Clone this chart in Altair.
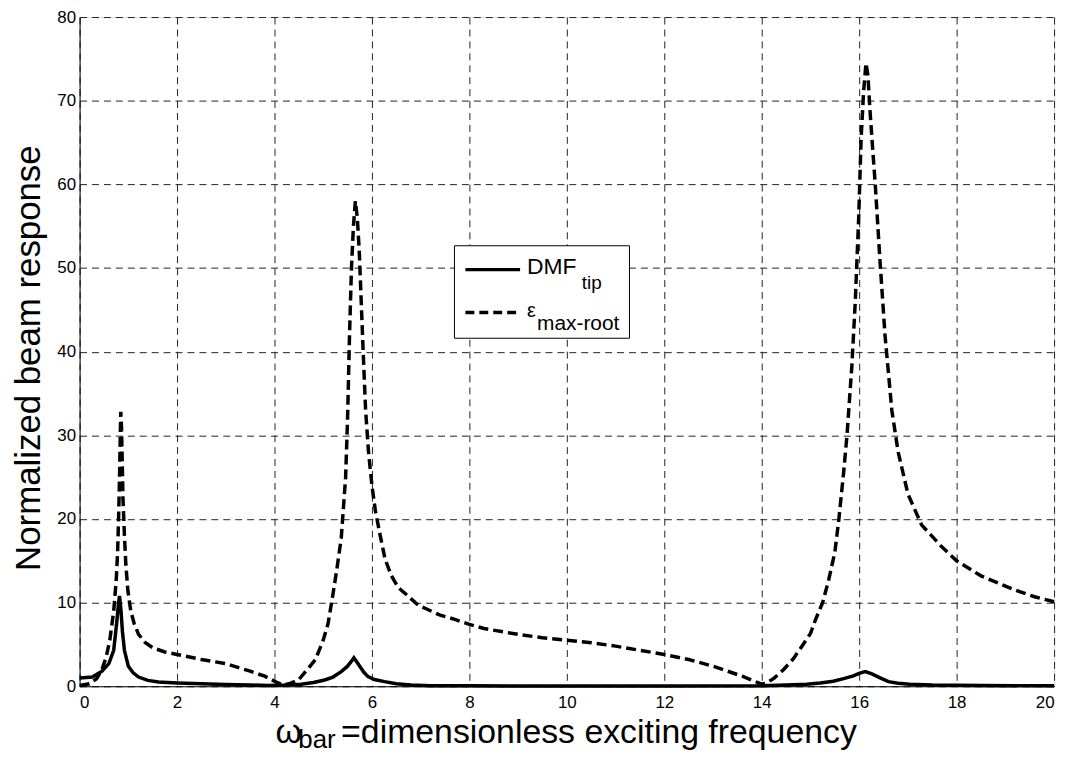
import altair as alt
import pandas as pd

# ---- data ----
eps_x = [0.0, 0.2, 0.35, 0.46, 0.55, 0.62, 0.70, 0.75, 0.78, 0.80, 0.82, 0.835, 0.845, 0.86, 0.875,
         0.89, 0.92, 0.95, 0.99, 1.05, 1.12, 1.21, 1.35, 1.5, 1.75, 2.0, 2.5, 3.0, 3.5, 3.8, 4.0,
         4.17, 4.3, 4.5, 4.7, 4.84, 5.0, 5.1, 5.2, 5.28, 5.37, 5.46, 5.50, 5.54, 5.58, 5.62, 5.66,
         5.70, 5.74, 5.78, 5.82, 5.87, 5.93, 6.0, 6.07, 6.17, 6.27, 6.4, 6.54, 6.7, 6.95, 7.1, 7.4,
         7.7, 8.0, 8.3, 9.0, 9.5, 10.0, 10.5, 11.0, 11.5, 12.0, 12.5, 13.0, 13.3, 13.6, 13.85, 14.0,
         14.1, 14.25, 14.45, 14.65, 14.85, 15.0, 15.1, 15.25, 15.37, 15.5, 15.58, 15.68, 15.75, 15.85,
         15.92, 15.99, 16.04, 16.09, 16.14, 16.18, 16.22, 16.28, 16.33, 16.43, 16.53, 16.67, 16.8,
         17.0, 17.28, 17.69, 18.0, 18.5, 19.2, 19.6, 20.0]
eps_y = [0.1, 0.3, 0.9, 2.0, 3.6, 5.5, 9.0, 12.5, 16.0, 20.0, 25.0, 30.0, 32.8, 31.0, 27.0,
         22.5, 18.0, 14.5, 11.5, 9.0, 7.5, 6.2, 5.2, 4.6, 4.1, 3.8, 3.2, 2.7, 1.8, 1.2, 0.6,
         0.15, 0.3, 0.8, 2.2, 3.2, 5.5, 7.5, 11.0, 14.0, 17.7, 25.0, 32.0, 42.0, 50.0, 55.0, 58.0,
         56.0, 52.0, 46.0, 40.0, 33.0, 28.0, 24.0, 21.0, 18.0, 15.2, 13.2, 11.8, 11.0, 9.7, 9.3, 8.5,
         8.0, 7.4, 6.9, 6.2, 5.8, 5.5, 5.2, 4.8, 4.3, 3.8, 3.2, 2.4, 1.8, 1.2, 0.6, 0.25,
         0.4, 0.95, 2.0, 3.3, 5.0, 6.3, 7.9, 10.0, 12.6, 16.0, 19.8, 25.5, 30.0, 38.3,
         46.0, 56.0, 65.5, 71.0, 74.5, 73.0, 69.0, 64.0, 60.0, 50.6, 42.0, 33.0, 28.0,
         23.0, 19.3, 16.7, 15.0, 13.2, 11.5, 10.7, 10.1]

dmf_x = [0.0, 0.26, 0.46, 0.6, 0.70, 0.76, 0.80, 0.82, 0.85, 0.88, 0.92, 1.0, 1.1, 1.21, 1.4,
         1.62, 2.0, 2.5, 3.0, 3.5, 3.86, 4.2, 4.55, 4.8, 5.03, 5.2, 5.37, 5.5, 5.58, 5.63, 5.68,
         5.75, 5.83, 5.92, 6.05, 6.26, 6.5, 6.8, 7.2, 8.0, 10.0, 12.0, 14.0, 14.5, 14.92, 15.2,
         15.47, 15.7, 15.88, 16.0, 16.12, 16.25, 16.43, 16.6, 16.8, 17.04, 17.5, 18.5, 20.0]
dmf_y = [1.0, 1.1, 1.8, 2.7, 4.3, 7.5, 10.0, 10.8, 9.0, 6.5, 4.3, 2.4, 1.6, 1.1, 0.7,
         0.5, 0.4, 0.3, 0.2, 0.15, 0.1, 0.15, 0.25, 0.45, 0.75, 1.1, 1.75, 2.4, 3.0, 3.4, 3.0,
         2.4, 1.7, 1.15, 0.8, 0.55, 0.3, 0.15, 0.05, 0.05, 0.03, 0.03, 0.05, 0.15, 0.25, 0.4,
         0.6, 0.95, 1.25, 1.55, 1.75, 1.5, 1.0, 0.55, 0.35, 0.25, 0.15, 0.1, 0.05]

x_ticks = [0, 2, 4, 6, 8, 10, 12, 14, 16, 18, 20]
y_ticks = [0, 10, 20, 30, 40, 50, 60, 70, 80]

FONT = "Liberation Sans"

eps_df = pd.DataFrame({"w": eps_x, "v": eps_y})
dmf_df = pd.DataFrame({"w": dmf_x, "v": dmf_y})
one = pd.DataFrame({"a": [0]})

xs = alt.Scale(domain=[0, 20], nice=False, zero=False)
ys = alt.Scale(domain=[0, 80], nice=False)

grid_common = dict(grid=True, gridDash=[7, 5], gridColor="#222222", gridWidth=1, gridOpacity=1,
                   ticks=False, tickSize=0, labelFont=FONT, labelFontSize=17, labelColor="black",
                   domainColor="black", domainWidth=1, title=None)
xax = alt.Axis(values=x_ticks, labelPadding=8, labelAngle=0, **grid_common)
yax = alt.Axis(values=y_ticks, labelPadding=4, **grid_common)

dmf_line = alt.Chart(dmf_df).mark_line(color="black", strokeWidth=3.5).encode(
    x=alt.X("w:Q", scale=xs, axis=xax),
    y=alt.Y("v:Q", scale=ys, axis=yax),
)
eps_line = alt.Chart(eps_df).mark_line(color="black", strokeWidth=3.5, strokeDash=[10, 5]).encode(
    x=alt.X("w:Q", scale=xs),
    y=alt.Y("v:Q", scale=ys),
)

# ---- legend (manual, for subscripts) ----
leg_box = alt.Chart(one).mark_rect(fill="white", stroke="black", strokeWidth=1).encode(
    x=alt.value(377), x2=alt.value(553), y=alt.value(230), y2=alt.value(323))
leg_solid = alt.Chart(one).mark_rule(color="black", strokeWidth=3.5).encode(
    x=alt.value(388), x2=alt.value(443), y=alt.value(254))
leg_dash = alt.Chart(one).mark_rule(color="black", strokeWidth=3.5, strokeDash=[9, 5]).encode(
    x=alt.value(388), x2=alt.value(442), y=alt.value(297))

def txt(s, x, y, size, align="left", baseline="alphabetic", angle=0):
    return alt.Chart(one).mark_text(text=s, font=FONT, fontSize=size, align=align,
                                    baseline=baseline, angle=angle, color="black").encode(
        x=alt.value(x), y=alt.value(y))

leg_t1 = txt("DMF", 450, 258, 23)
leg_t1s = txt("tip", 505, 273, 19)
leg_t2 = txt("ε", 450, 302, 20)
leg_t2s = txt("max-root", 460, 315, 21)

# ---- axis titles ----
ytitle = txt("Normalized beam response", -40, 343, 35, align="center", angle=270)
xt1 = txt("ω", 197, 730, 34)
xt2 = txt("bar", 220, 735, 26)
xt3 = txt("=dimensionless exciting frequency", 263, 730, 34)

chart = alt.layer(
    dmf_line, eps_line, leg_box, leg_solid, leg_dash, leg_t1, leg_t1s, leg_t2, leg_t2s,
    ytitle, xt1, xt2, xt3
).properties(
    width=980, height=673,
    autosize=alt.AutoSizeParams(type="none"),
    padding={"left": 72, "top": 7, "right": 12, "bottom": 65},
).configure_view(stroke="black", strokeWidth=1).configure(background="white")

chart.save("out.html", embed_options={"renderer": "svg", "actions": False})
